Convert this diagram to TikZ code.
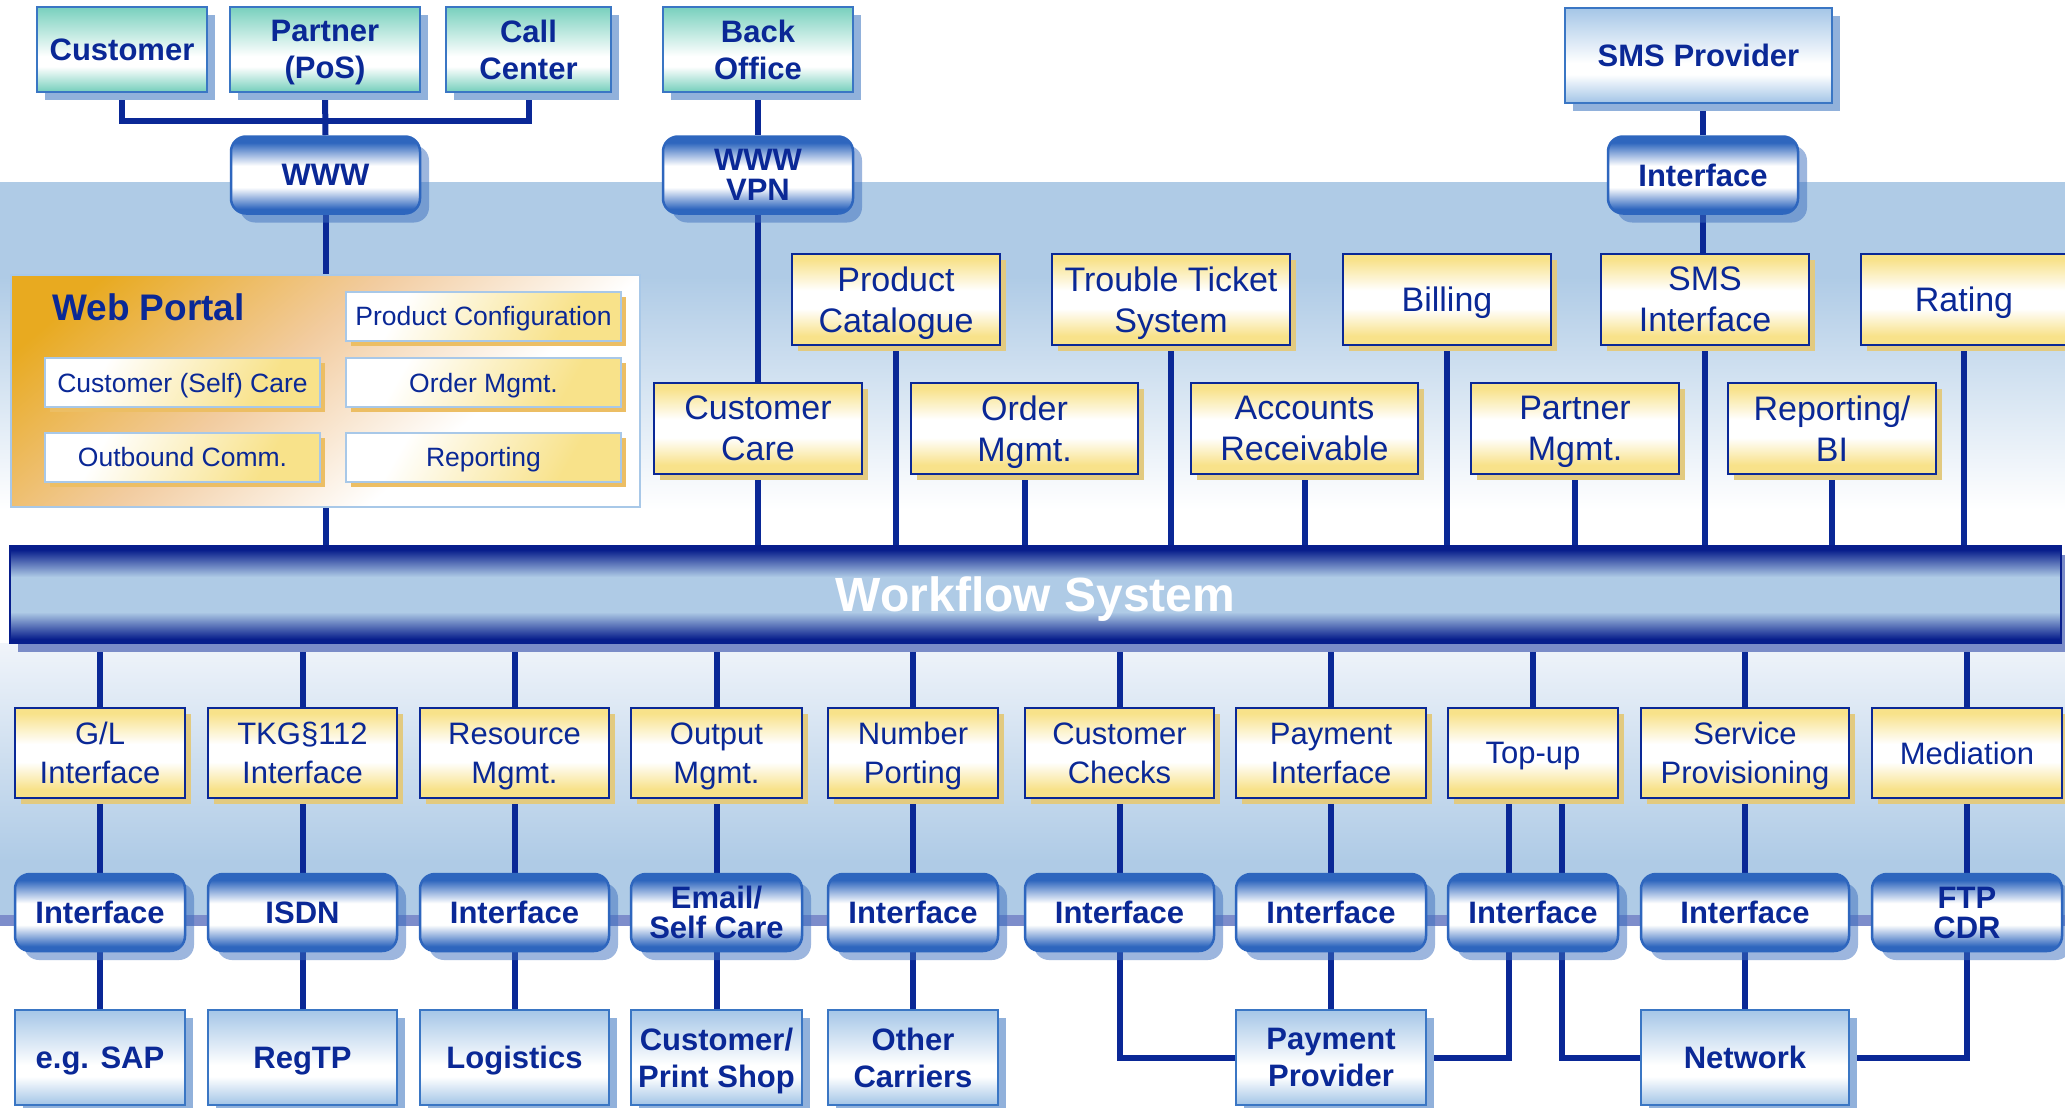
\documentclass[tikz,border=0pt]{standalone}
\usepackage{fontspec}
\setmainfont{Liberation Sans}
\usetikzlibrary{shadows}

\definecolor{navy}{RGB}{10,40,150}
\definecolor{bgblue}{RGB}{175,203,230}
\definecolor{paleblue}{RGB}{240,244,250}
\definecolor{ylw}{RGB}{248,226,138}
\definecolor{yshade}{RGB}{226,202,128}
\definecolor{tealc}{RGB}{125,210,192}
\definecolor{lblue}{RGB}{168,200,232}
\definecolor{boxline}{RGB}{58,118,196}
\definecolor{bshade}{RGB}{145,177,219}
\definecolor{rblue}{RGB}{46,102,190}
\definecolor{rshade}{RGB}{60,110,190}
\definecolor{barnavy}{RGB}{8,30,140}
\definecolor{barshade}{RGB}{123,140,200}
\definecolor{stripe}{RGB}{125,141,203}
\definecolor{portalA}{RGB}{232,170,32}
\definecolor{portalB}{RGB}{242,204,160}
\definecolor{wpline}{RGB}{168,200,232}
\definecolor{wpshade}{RGB}{236,190,100}

\pgfdeclareverticalshading{ylwfade}{100bp}{color(0bp)=(ylw); color(30bp)=(ylw); color(45bp)=(white); color(55bp)=(white); color(72bp)=(ylw); color(100bp)=(ylw)}
\pgfdeclareverticalshading{tealfade}{100bp}{color(0bp)=(tealc); color(26bp)=(tealc); color(40bp)=(white); color(46bp)=(white); color(74bp)=(tealc); color(100bp)=(tealc)}
\pgfdeclareverticalshading{bluefade}{100bp}{color(0bp)=(lblue); color(26bp)=(lblue); color(40bp)=(white); color(46bp)=(white); color(74bp)=(lblue); color(100bp)=(lblue)}
\pgfdeclareverticalshading{roundfade}{100bp}{color(0bp)=(rblue); color(28bp)=(rblue); color(42bp)=(white); color(56bp)=(white); color(71bp)=(rblue); color(100bp)=(rblue)}
\pgfdeclareverticalshading{wffade}{100bp}{color(0bp)=(barnavy); color(27bp)=(barnavy); color(41bp)=(bgblue); color(59bp)=(bgblue); color(73bp)=(barnavy); color(100bp)=(barnavy)}
\pgfdeclareverticalshading{bandfade}{100bp}{color(0bp)=(white); color(30bp)=(white); color(62bp)=(bgblue); color(100bp)=(bgblue)}
\pgfdeclareverticalshading{lowfade}{100bp}{color(0bp)=(bgblue); color(35bp)=(bgblue); color(75bp)=(paleblue); color(100bp)=(paleblue)}
\pgfdeclareverticalshading{portalfade}{100bp}{color(0bp)=(white); color(36bp)=(white); color(56bp)=(portalB); color(78bp)=(portalA); color(100bp)=(portalA)}
\pgfdeclareverticalshading{wpfade}{100bp}{color(0bp)=(ylw); color(30bp)=(ylw); color(70bp)=(white); color(100bp)=(white)}

\pgfdeclarelayer{back}
\pgfdeclarelayer{wires}
\pgfsetlayers{back,wires,main}

\tikzset{
  wire/.style={draw=navy, line width=6pt},
  tealbox/.style={draw=boxline, line width=2.5pt, shading=tealfade, text=navy,
    font=\fontsize{31}{37}\selectfont\bfseries, align=center, inner sep=0pt,
    text depth=0pt, minimum height=85pt,
    drop shadow={shadow xshift=8pt, shadow yshift=-8pt, fill=bshade, opacity=1}},
  bluebox/.style={tealbox, shading=bluefade, minimum height=95pt},
  roundbox/.style={draw=rblue, line width=2.5pt, rounded corners=15pt, shading=roundfade,
    text=navy, font=\fontsize{31}{30}\selectfont\bfseries, align=center, inner sep=0pt,
    text depth=0pt, minimum height=77pt,
    drop shadow={shadow xshift=9pt, shadow yshift=-9pt, fill=rshade, opacity=.5}},
  yupper/.style={draw=navy, line width=2.5pt, shading=ylwfade, text=navy,
    font=\fontsize{34}{41}\selectfont, align=center, inner sep=0pt,
    text depth=0pt, minimum height=91pt,
    drop shadow={shadow xshift=6pt, shadow yshift=-6pt, fill=yshade, opacity=1}},
  ylower/.style={yupper, font=\fontsize{31}{39}\selectfont, minimum height=90pt},
  wpbox/.style={draw=wpline, line width=2pt, shading=wpfade, shading angle=60,
    text=navy, font=\fontsize{26.5}{30}\selectfont, inner sep=0pt,
    text depth=0pt, minimum width=275pt, minimum height=49pt,
    drop shadow={shadow xshift=5pt, shadow yshift=-5pt, fill=wpshade, opacity=1}},
  portal/.style={draw=wpline, line width=2pt, shading=portalfade, shading angle=40,
    inner sep=0pt},
  wfbar/.style={draw=barnavy, line width=1.5pt, shading=wffade, text=white,
    font=\fontsize{48}{50}\selectfont\bfseries, inner sep=0pt,
    text depth=0pt, minimum width=2051pt, minimum height=97pt,
    drop shadow={shadow xshift=8pt, shadow yshift=-9pt, fill=barshade, opacity=1}}
}

\begin{document}
\begin{tikzpicture}[x=1pt,y=-1pt]
\useasboundingbox (0,0) rectangle (2065,1108);

% backdrop
\begin{pgfonlayer}{back}
  \fill[white] (0,0) rectangle (2065,1108);
  \shade[shading=bandfade] (0,182) rectangle (2065,546);
  \shade[shading=lowfade] (0,643) rectangle (2065,916);
  \fill[stripe] (0,915) rectangle (2065,926);
\end{pgfonlayer}

% access channels
\node[tealbox, minimum width=170pt] (cust) at (122,49.5) {Customer};
\node[tealbox, minimum width=190pt] (pos) at (325,49.5) {Partner\\(PoS)};
\node[tealbox, minimum width=165pt] (call) at (528.5,49.5) {Call\\Center};
\node[tealbox, minimum width=190pt] (back) at (758,49.5) {Back\\Office};
\node[roundbox, minimum width=189pt] (www) at (325.5,175) {WWW};
\node[roundbox, minimum width=190pt] (vpn) at (758,175) {WWW\\VPN};
\node[bluebox, minimum width=267pt] (smsp) at (1698.5,55.5) {SMS Provider};
\node[roundbox, minimum width=190pt] (smsi) at (1703,175) {Interface};

% web portal
\node[portal, minimum width=629pt, minimum height=232pt] (wp) at (325.5,391) {};
\node[text=navy, font=\fontsize{37}{40}\selectfont\bfseries, anchor=west, inner sep=0pt] (wpt) at (52,307) {Web Portal};
\node[wpbox] (pconf) at (483.5,316) {Product Configuration};
\node[wpbox] (selfc) at (182.5,382.5) {Customer (Self) Care};
\node[wpbox] (wpord) at (483.5,382.5) {Order Mgmt.};
\node[wpbox] (outb) at (182.5,457) {Outbound Comm.};
\node[wpbox] (wprep) at (483.5,457) {Reporting};

% upper modules
\node[yupper, minimum width=208pt] (cat) at (896,299.5) {Product\\Catalogue};
\node[yupper, minimum width=238pt] (ticket) at (1171,299.5) {Trouble Ticket\\System};
\node[yupper, minimum width=208pt] (bill) at (1447,299.5) {Billing};
\node[yupper, minimum width=208pt] (smsint) at (1705,299.5) {SMS\\Interface};
\node[yupper, minimum width=206pt] (rate) at (1964,299.5) {Rating};
\node[yupper, minimum width=208pt] (care) at (758,428.5) {Customer\\Care};
\node[yupper, minimum width=227pt] (order) at (1024.5,428.5) {Order\\Mgmt.};
\node[yupper, minimum width=227pt] (ar) at (1304.5,428.5) {Accounts\\Receivable};
\node[yupper, minimum width=208pt] (partner) at (1575,428.5) {Partner\\Mgmt.};
\node[yupper, minimum width=208pt] (bi) at (1832,428.5) {Reporting/\\BI};

\node[wfbar] (wf) at (1035.5,594.5) {Workflow System};

% lower modules
\node[ylower, minimum width=170pt] (gl) at (100,753) {G/L\\Interface};
\node[ylower, minimum width=189pt] (tkg) at (302.5,753) {TKG§112\\Interface};
\node[ylower, minimum width=189pt] (res) at (514.5,753) {Resource\\Mgmt.};
\node[ylower, minimum width=171pt] (outm) at (716.5,753) {Output\\Mgmt.};
\node[ylower, minimum width=170pt] (port) at (913,753) {Number\\Porting};
\node[ylower, minimum width=189pt] (chk) at (1119.5,753) {Customer\\Checks};
\node[ylower, minimum width=190pt] (pay) at (1331,753) {Payment\\Interface};
\node[ylower, minimum width=170pt] (topup) at (1533,753) {Top-up};
\node[ylower, minimum width=208pt] (prov) at (1745,753) {Service\\Provisioning};
\node[ylower, minimum width=190pt] (med) at (1967,753) {Mediation};

% interfaces
\node[roundbox, minimum width=170pt] (gli) at (100,912.5) {Interface};
\node[roundbox, minimum width=189pt] (isdn) at (302.5,912.5) {ISDN};
\node[roundbox, minimum width=189pt] (resi) at (514.5,912.5) {Interface};
\node[roundbox, minimum width=171pt] (mail) at (716.5,912.5) {Email/\\Self Care};
\node[roundbox, minimum width=170pt] (porti) at (913,912.5) {Interface};
\node[roundbox, minimum width=189pt] (chki) at (1119.5,912.5) {Interface};
\node[roundbox, minimum width=190pt] (payi) at (1331,912.5) {Interface};
\node[roundbox, minimum width=170pt] (topi) at (1533,912.5) {Interface};
\node[roundbox, minimum width=208pt] (provi) at (1745,912.5) {Interface};
\node[roundbox, minimum width=190pt] (ftp) at (1967,912.5) {FTP\\CDR};

% external partners
\node[bluebox, minimum width=170pt] (sap) at (100,1057.5) {e.g. SAP};
\node[bluebox, minimum width=189pt] (regtp) at (302.5,1057.5) {RegTP};
\node[bluebox, minimum width=189pt] (logi) at (514.5,1057.5) {Logistics};
\node[bluebox, minimum width=171pt] (shop) at (716.5,1057.5) {Customer/\\Print Shop};
\node[bluebox, minimum width=170pt] (carr) at (913,1057.5) {Other\\Carriers};
\node[bluebox, minimum width=190pt] (payp) at (1331,1057.5) {Payment\\Provider};
\node[bluebox, minimum width=208pt] (net) at (1745,1057.5) {Network};

\begin{pgfonlayer}{wires}
  \coordinate (join) at (325,121);
  \draw[wire] (cust.south) |- (join) -| (call.south);
  \draw[wire] (pos.south) -- (www.north);
  \draw[wire] (www.south) -- (www.south |- wf.north);
  \draw[wire] (back.south) -- (vpn.north);
  \draw[wire] (vpn.south) -- (care.north);
  \draw[wire] (care.south) -- (care.south |- wf.north);
  \draw[wire] (smsi.north) -- (smsi.north |- smsp.south);
  \draw[wire] (smsi.south) -- (smsi.south |- smsint.north);
  \draw[wire] (cat.south) -- (cat.south |- wf.north);
  \draw[wire] (ticket.south) -- (ticket.south |- wf.north);
  \draw[wire] (bill.south) -- (bill.south |- wf.north);
  \draw[wire] (smsint.south) -- (smsint.south |- wf.north);
  \draw[wire] (rate.south) -- (rate.south |- wf.north);
  \draw[wire] (order.south) -- (order.south |- wf.north);
  \draw[wire] (ar.south) -- (ar.south |- wf.north);
  \draw[wire] (partner.south) -- (partner.south |- wf.north);
  \draw[wire] (bi.south) -- (bi.south |- wf.north);
  % below the bus
  \draw[wire] (gl.north) -- (gl.north |- wf.south);
  \draw[wire] (tkg.north) -- (tkg.north |- wf.south);
  \draw[wire] (res.north) -- (res.north |- wf.south);
  \draw[wire] (outm.north) -- (outm.north |- wf.south);
  \draw[wire] (port.north) -- (port.north |- wf.south);
  \draw[wire] (chk.north) -- (chk.north |- wf.south);
  \draw[wire] (pay.north) -- (pay.north |- wf.south);
  \draw[wire] (topup.north) -- (topup.north |- wf.south);
  \draw[wire] (prov.north) -- (prov.north |- wf.south);
  \draw[wire] (med.north) -- (med.north |- wf.south);
  \draw[wire] (gl.south) -- (gli.north);
  \draw[wire] (tkg.south) -- (isdn.north);
  \draw[wire] (res.south) -- (resi.north);
  \draw[wire] (outm.south) -- (mail.north);
  \draw[wire] (port.south) -- (porti.north);
  \draw[wire] (chk.south) -- (chki.north);
  \draw[wire] (pay.south) -- (payi.north);
  \draw[wire] ([xshift=-24pt]topup.south) -- ([xshift=-24pt]topi.north);
  \draw[wire] ([xshift=29pt]topup.south) -- ([xshift=29pt]topi.north);
  \draw[wire] (prov.south) -- (provi.north);
  \draw[wire] (med.south) -- (ftp.north);
  \draw[wire] (gli.south) -- (sap.north);
  \draw[wire] (isdn.south) -- (regtp.north);
  \draw[wire] (resi.south) -- (logi.north);
  \draw[wire] (mail.south) -- (shop.north);
  \draw[wire] (porti.south) -- (carr.north);
  \draw[wire] (payi.south) -- (payp.north);
  \draw[wire] (provi.south) -- (net.north);
  \draw[wire] (chki.south) |- (payp.west);
  \draw[wire] ([xshift=-24pt]topi.south) |- (payp.east);
  \draw[wire] ([xshift=29pt]topi.south) |- (net.west);
  \draw[wire] (ftp.south) |- (net.east);
\end{pgfonlayer}
\end{tikzpicture}
\end{document}
